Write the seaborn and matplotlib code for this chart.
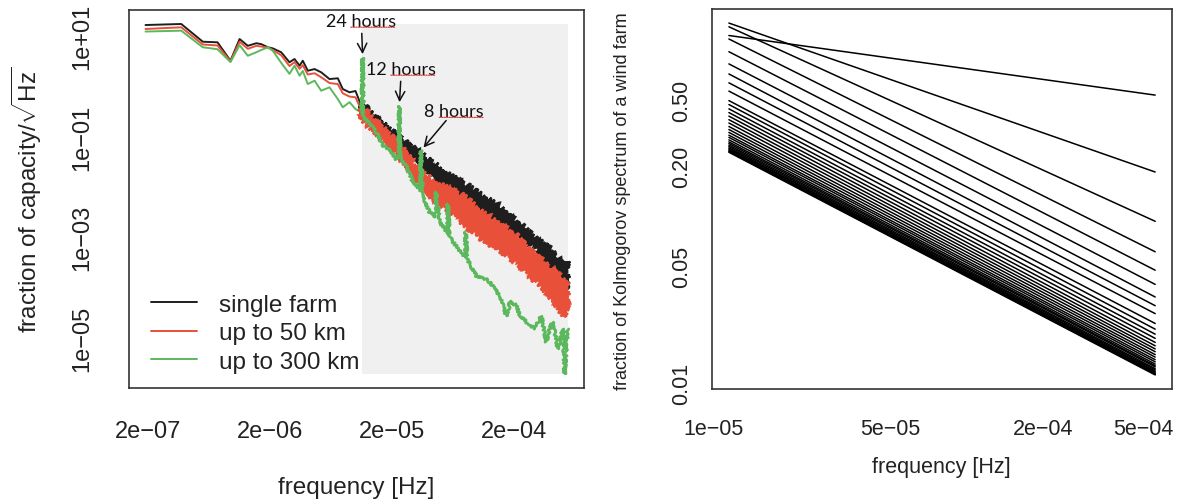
import numpy as np
import pandas as pd
import seaborn as sns
import matplotlib.pyplot as plt
from matplotlib.lines import Line2D

# ---------------- left panel: amplitude spectra ----------------
# low-frequency part: one value per series at each frequency
low_freq = [1.91e-7, 3.75e-7, 5.64e-7, 7.44e-7, 9.51e-7, 1.13e-6, 1.32e-6, 1.55e-6, 1.70e-6,
            1.93e-6, 2.12e-6, 2.48e-6, 2.90e-6, 3.19e-6, 3.51e-6, 3.73e-6, 4.10e-6, 4.66e-6,
            5.28e-6, 6.18e-6, 7.23e-6, 7.94e-6, 9.02e-6, 1.01e-5, 1.13e-5]
low_single = [16.3, 17.1, 7.6, 7.4, 3.19, 8.6, 6.3, 7.1, 6.8, 5.9, 5.6, 4.7, 2.97, 3.45, 2.54,
              3.19, 2.02, 2.18, 1.88, 1.38, 1.43, 0.875, 0.753, 0.80, 0.40]
low_50km = [13.6, 14.7, 6.7, 6.4, 3.1, 7.6, 5.5, 6.3, 6.1, 5.8, 5.2, 4.1, 2.5, 3.0, 2.2, 2.6,
            1.7, 1.8, 1.5, 1.15, 1.1, 0.72, 0.62, 0.60, 0.33]
low_300km = [12.1, 12.6, 5.9, 5.4, 3.0, 6.5, 4.0, 4.7, 5.2, 5.9, 5.0, 2.9, 1.75, 2.54, 1.61, 2.0,
             1.1, 1.28, 0.81, 0.946, 0.554, 0.38, 0.48, 0.35, 0.30]

# high-frequency part: the noisy black and red traces as upper / lower envelopes
band_freq = [1.13e-5, 1.68e-5, 2.32e-5, 3.20e-5, 4.34e-5, 5.97e-5, 8.25e-5, 1.11e-4, 1.54e-4,
             2.11e-4, 3.08e-4, 4.21e-4, 5.26e-4, 5.55e-4]
single_upper = [0.462, 0.185, 0.0977, 0.054, 0.0312, 0.0172, 0.0109, 0.0069, 0.00418, 0.00211,
                0.000968, 0.000535, 0.00027, 0.00034]
single_lower = [0.292, 0.117, 0.0648, 0.0358, 0.0164, 0.00908, 0.00501, 0.00318, 0.00192,
                0.00111, 0.000586, 0.000235, 9.42e-5, 0.000118]
km50_upper = [0.385, 0.154, 0.0709, 0.0248, 0.0137, 0.00908, 0.00606, 0.00318, 0.00192, 0.00108,
              0.000431, 0.000235, 0.00013, 0.000118]
km50_lower = [0.222, 0.0891, 0.0392, 0.0144, 0.00575, 0.00333, 0.0016, 0.000925, 0.000535,
              0.000319, 0.00013, 5.97e-5, 2.62e-5, 4.8e-5]

# high-frequency part of the 300 km trace, with the daily-cycle peaks
hi_freq_300 = [1.157e-5, 1.175e-5, 1.315e-5, 1.50e-5, 1.68e-5, 1.92e-5, 2.18e-5, 2.28e-5, 2.31e-5,
               2.35e-5, 2.64e-5, 2.99e-5, 3.39e-5, 3.44e-5, 3.47e-5, 3.59e-5, 4.09e-5, 4.58e-5,
               4.63e-5, 4.94e-5, 5.61e-5, 5.76e-5, 5.79e-5, 5.97e-5, 6.78e-5, 7.5e-5, 8.07e-5,
               8.10e-5, 8.3e-5, 9.91e-5, 1.11e-4, 1.27e-4, 1.54e-4, 1.75e-4, 1.89e-4, 2.11e-4,
               2.29e-4, 2.55e-4, 2.98e-4, 3.38e-4, 3.72e-4, 3.95e-4, 4.21e-4, 4.63e-4, 5.09e-4,
               5.26e-4, 5.55e-4]
hi_val_300 = [3.56, 0.244, 0.177, 0.123, 0.0678, 0.0565, 0.0358, 0.037, 0.397,
              0.0392, 0.026, 0.0125, 0.00908, 0.0085, 0.0522, 0.00659, 0.00318, 0.0026,
              0.00792, 0.00201, 0.00127, 0.0012, 0.00458, 0.00101, 0.000672, 0.000467, 0.00042,
              0.00127, 0.000371, 0.000171, 0.000163, 0.00013, 6.84e-5, 2.74e-5, 5.45e-5, 4.34e-5,
              2.62e-5, 2.09e-5, 1.52e-5, 2.74e-5, 8.38e-6, 1.52e-5, 2.09e-5, 6.08e-6, 1.52e-5,
              1.96e-6, 1.52e-5]

series_names = ['single farm', 'up to 50 km', 'up to 300 km']
series_colors = ['#1e1e1e', '#e8503a', '#5cb85c']
ann_labels = ['24 hours', '12 hours', '8 hours']
ann_hours = [24, 12, 8]

# ---------------- right panel: Kolmogorov spectrum fractions ----------------
kol_freq = [1.15e-5, 5.57e-4]
kol_start = [1.21, 1.437, 1.365, 1.153, 0.967, 0.817, 0.711, 0.629, 0.561, 0.492, 0.466, 0.439,
             0.417, 0.397, 0.378, 0.361, 0.344, 0.330, 0.317, 0.305, 0.296, 0.286, 0.278, 0.272,
             0.266, 0.261, 0.256, 0.253, 0.249, 0.246, 0.243, 0.241]
kol_end = [0.531, 0.1834, 0.0928, 0.0609, 0.0472, 0.0388, 0.0326, 0.0289, 0.0259, 0.0226, 0.0209,
           0.0195, 0.0184, 0.0174, 0.0166, 0.0159, 0.0153, 0.0147, 0.0142, 0.0137, 0.0133, 0.0129,
           0.0126, 0.0124, 0.0121, 0.0119, 0.0117, 0.01156, 0.0114, 0.0113, 0.0112, 0.0111]


def r_limits(values):
    # R style axis range: data range plus 4% on each side (log scale)
    lo, hi = np.log10(np.min(values)), np.log10(np.max(values))
    pad = 0.04 * (hi - lo)
    return 10 ** (lo - pad), 10 ** (hi + pad)


sns.set_theme(style='white')
plt.rcParams['font.family'] = ['Liberation Sans', 'DejaVu Sans']
plt.rcParams['mathtext.fontset'] = 'custom'
plt.rcParams['mathtext.rm'] = 'Liberation Sans'
plt.rcParams['axes.edgecolor'] = '#333333'
plt.rcParams['axes.linewidth'] = 1.2

fig = plt.figure(figsize=(11.78, 5.02), dpi=100)
ax1 = fig.add_axes([0.1092, 0.2257, 0.3869, 0.7524])
ax2 = fig.add_axes([0.6043, 0.2231, 0.3908, 0.757])

# ---- left panel ----
ax1.set_xscale('log')
ax1.set_yscale('log')

all_f = low_freq + band_freq + hi_freq_300
all_v = low_single + low_50km + low_300km + single_upper + km50_upper + km50_lower + hi_val_300
ax1.set_xlim(*r_limits(all_f))
ax1.set_ylim(*r_limits(all_v))

# shaded frequency range shown on the right panel
ax1.fill_between(kol_freq, min(all_v), max(all_v), color='#f0f0f0', lw=0, zorder=0)

df_low = pd.DataFrame({
    'freq': low_freq * 3,
    'value': low_single + low_50km + low_300km,
    'series': np.repeat(series_names, len(low_freq)),
})
sns.lineplot(data=df_low, x='freq', y='value', hue='series', palette=series_colors,
             estimator=None, lw=1.4, legend=False, ax=ax1, zorder=2)

# noisy bands: envelope polygons drawn with a jittered (sketch) outline
for up, lo, col, z in [(single_upper, single_lower, series_colors[0], 2),
                       (km50_upper, km50_lower, series_colors[1], 3)]:
    poly = ax1.fill(band_freq + band_freq[::-1], up + lo[::-1], color=col, lw=1.6,
                    edgecolor=col, zorder=z)[0]
    poly.set_sketch_params(scale=3.0, length=3.0, randomness=3.0)

df_hi = pd.DataFrame({'freq': [low_freq[-1]] + hi_freq_300,
                      'value': [low_300km[-1]] + hi_val_300})
sns.lineplot(data=df_hi, x='freq', y='value', color=series_colors[2], estimator=None,
             lw=2.0, ax=ax1, zorder=4)
ax1.lines[-1].set_sketch_params(scale=1.3, length=3.0, randomness=3.0)

# arrows to the daily-cycle peaks
ann_offsets = [(-1, 27), (1.5, 27), (24, 28.6)]
ann_hours_start = [0.35, 0.35, 0.25]
for label, h, (dx, dy), hs in zip(ann_labels, ann_hours, ann_offsets, ann_hours_start):
    fpk = 1.0 / (h * 3600)
    i = int(np.argmin(np.abs(np.log(hi_freq_300) - np.log(fpk))))
    xy = (hi_freq_300[i], hi_val_300[i])
    t = ax1.annotate(label, xy=xy, xytext=(dx, dy), textcoords='offset points',
                     ha='center', va='center', fontsize=13, family=['Lato', 'DejaVu Sans'],
                     color='#111111', zorder=6)
    ax1.annotate('', xy=xy, xytext=(dx, dy), textcoords='offset points',
                 arrowprops=dict(arrowstyle='->,head_length=0.55,head_width=0.28', color='#111111',
                                 lw=1.1, shrinkA=9, shrinkB=3), zorder=6)
    ax1.annotate('', xy=(0.99, 0.1), xycoords=t, xytext=(hs, 0.1), textcoords=t,
                 arrowprops=dict(arrowstyle='-', color='#e04040', lw=0.9, ls=(0, (1, 1)),
                                 shrinkA=0, shrinkB=0), zorder=6)

ax1.set_xticks([2e-7, 5e-7, 1e-6, 2e-6, 5e-6, 1e-5, 2e-5, 5e-5, 1e-4, 2e-4, 5e-4])
ax1.set_xticklabels(['2e\u221207', '', '', '2e\u221206', '', '', '2e\u221205', '', '',
                     '2e\u221204', ''])
ax1.set_yticks([1e1, 1e-1, 1e-3, 1e-5])
ax1.set_yticklabels(['1e+01', '1e\u221201', '1e\u221203', '1e\u221205'], rotation=90,
                    va='center')
ax1.minorticks_off()
ax1.tick_params(axis='both', direction='out', length=9.5, width=1.1, color='#333333',
                labelsize=17, colors='#333333', labelcolor='#222222')
ax1.tick_params(axis='x', pad=14)
ax1.tick_params(axis='y', pad=16)
ax1.set_xlabel('frequency [Hz]', fontsize=17.5, color='#222222')
ax1.set_ylabel(r'fraction of capacity/$\sqrt{\mathrm{Hz}}$', fontsize=17.5, color='#222222')
ax1.xaxis.set_label_coords(0.5, -0.263)
ax1.xaxis.label.set_va('center')
ax1.yaxis.set_label_coords(-0.2236, 0.5)
ax1.yaxis.label.set_va('center')

handles = [Line2D([], [], color=c, lw=1.4) for c in series_colors]
ax1.legend(handles, series_names, loc='lower left', bbox_to_anchor=(0.049, 0.04),
           frameon=False, fontsize=17.5, handlelength=1.9, handletextpad=0.9,
           labelspacing=0.26, borderpad=0, borderaxespad=0, labelcolor='#222222')

# ---- right panel ----
ax2.set_xscale('log')
ax2.set_yscale('log')
df_kol = pd.DataFrame({
    'freq': kol_freq * len(kol_start),
    'value': [v for pair in zip(kol_start, kol_end) for v in pair],
    'line': np.repeat(np.arange(len(kol_start)), 2),
})
sns.lineplot(data=df_kol, x='freq', y='value', units='line', estimator=None, color='black',
             lw=1.1, ax=ax2)
ax2.set_xlim(*r_limits(kol_freq))
ax2.set_ylim(*r_limits(kol_start + kol_end))

ax2.set_xticks([1e-5, 2e-5, 5e-5, 1e-4, 2e-4, 5e-4])
ax2.set_xticklabels(['1e\u221205', '', '5e\u221205', '', '2e\u221204', '5e\u221204'])
ax2.set_yticks([0.01, 0.02, 0.05, 0.1, 0.2, 0.5, 1.0])
ax2.set_yticklabels(['0.01', '', '0.05', '', '0.20', '0.50', ''], rotation=90, va='center')
ax2.minorticks_off()
ax2.tick_params(axis='both', direction='out', length=9.5, width=1.1, color='#333333',
                labelsize=15.5, labelcolor='#222222')
ax2.tick_params(axis='x', pad=11.5)
ax2.tick_params(axis='y', pad=5)
ax2.set_xlabel('frequency [Hz]', fontsize=15.5, color='#222222')
ax2.set_ylabel('fraction of Kolmogorov spectrum of a wind farm', fontsize=13, color='#222222')
ax2.xaxis.set_label_coords(0.4976, -0.205)
ax2.xaxis.label.set_va('center')
ax2.yaxis.set_label_coords(-0.195, 0.496)
ax2.yaxis.label.set_va('center')

fig.savefig('out.png', dpi=100)
